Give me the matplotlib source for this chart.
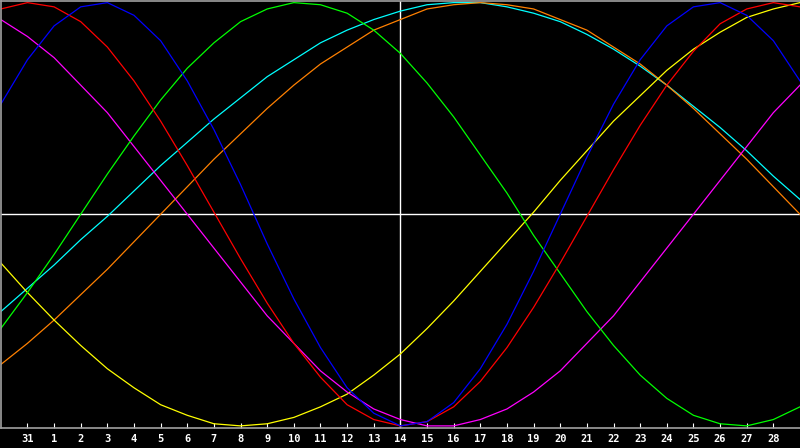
import numpy as np
import matplotlib
matplotlib.use("Agg")
import matplotlib.pyplot as plt

# day positions (index -1 = left edge .. 29 = right edge), ticks at 0..28
day_pos = np.arange(-1, 30)
tick_pos = np.arange(0, 29)
tick_labels = ["31"] + [str(d) for d in range(1, 29)]
today = 14

# curve values in percent, one per day position
red = [97, 100, 98, 91, 79, 63, 44, 23, 1, -21, -42, -61, -77, -90, -97, -100,
       -98, -91, -79, -63, -44, -23, -1, 21, 42, 61, 77, 90, 97, 100, 98]
blue = [52, 73, 89, 98, 100, 94, 82, 63, 40, 14, -14, -40, -63, -82, -94, -100,
        -98, -89, -73, -52, -27, 0, 27, 52, 73, 89, 98, 100, 94, 82, 63]
green = [-54, -37, -19, 0, 19, 37, 54, 69, 81, 91, 97, 100, 99, 95, 87, 76,
         62, 46, 28, 10, -10, -28, -46, -62, -76, -87, -95, -99, -100, -97, -91]
magenta = [92, 84, 74, 61, 48, 32, 16, 0, -16, -32, -48, -61, -74, -84, -92, -97,
           -100, -100, -97, -92, -84, -74, -61, -48, -32, -16, 0, 16, 32, 48, 61]
yellow = [-23, -37, -50, -62, -73, -82, -90, -95, -99, -100, -99, -96, -91, -85, -76, -66,
          -54, -41, -27, -13, 1, 16, 30, 44, 56, 68, 78, 86, 93, 97, 100]
cyan = [-46, -35, -24, -12, -1, 11, 23, 34, 45, 55, 65, 73, 81, 87, 92, 96,
        99, 100, 100, 98, 95, 91, 85, 78, 70, 61, 51, 41, 30, 18, 7]
orange = [-71, -61, -50, -38, -26, -13, 0, 13, 26, 38, 50, 61, 71, 79, 87, 92,
          97, 99, 100, 99, 97, 92, 87, 79, 71, 61, 50, 38, 26, 13, 0]

series = [
    (cyan, "#00ffff"),
    (orange, "#ff8000"),
    (yellow, "#ffff00"),
    (magenta, "#ff00ff"),
    (green, "#00ff00"),
    (red, "#ff0000"),
    (blue, "#0000ff"),
]

fig = plt.figure(figsize=(8, 4.48), dpi=100, facecolor="black")
ax = fig.add_axes([0.001, 20 / 448, 0.999, 427.5 / 448])
ax.set_facecolor("black")

ax.axhline(0, color="white", lw=1.0, zorder=1)
ax.axvline(today, color="white", lw=1.0, zorder=1)

for vals, col in series:
    ax.plot(day_pos, vals, color=col, lw=0.9, zorder=2)

ax.set_xlim(-1, 29)
ax.set_ylim(-101, 101)
ax.set_yticks([])
ax.set_xticks(tick_pos)
ax.set_xticklabels(tick_labels, family="DejaVu Sans Mono", fontweight="bold",
                   fontsize=7.5, color="white")
ax.tick_params(axis="x", direction="in", length=3.6, width=0.8, color="white", pad=4.5)

for side in ["top", "left", "bottom"]:
    ax.spines[side].set_color("#a0a0a0")
    ax.spines[side].set_linewidth(1.2)
ax.spines["right"].set_visible(False)

fig.savefig("out.png", dpi=100, facecolor="black")
